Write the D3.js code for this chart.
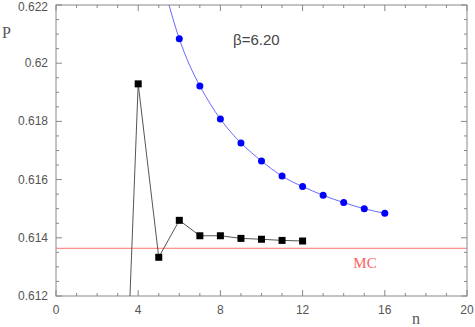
<!DOCTYPE html>
<html><head><meta charset="utf-8">
<script src="https://cdn.jsdelivr.net/npm/d3@7"></script>
<style>body{margin:0;background:#fff}</style>
</head><body>
<svg id="c" width="475" height="327"></svg>
<script>
const squareN = [3, 4, 5, 6, 7, 8, 9, 10, 11, 12];
const squareP = [0.6011, 0.61929, 0.61333, 0.61460, 0.61407, 0.61407, 0.61398, 0.61395, 0.61391, 0.61389];
const circleN = [6, 7, 8, 9, 10, 11, 12, 13, 14, 15, 16];
const circleP = [0.62084, 0.61922, 0.61808, 0.61726, 0.61664, 0.61612, 0.61576, 0.61546, 0.61521, 0.61500, 0.61484];
const fitN = [5, 6, 7, 8, 9, 10, 11, 12, 13, 14, 15, 16];
const fitP = [0.62330, 0.62084, 0.61922, 0.61808, 0.61726, 0.61664, 0.61612, 0.61576, 0.61546, 0.61521, 0.61500, 0.61484];
const mcP = 0.61364;
const xTicks = [0, 4, 8, 12, 16, 20];
const yTicks = [0.612, 0.614, 0.616, 0.618, 0.62, 0.622];
const yTickLabels = ["0.612", "0.614", "0.616", "0.618", "0.62", "0.622"];

const svg = d3.select("#c");
const L = 56, R = 467, T = 5, B = 296;
const x = d3.scaleLinear().domain([0, 20]).range([L, R]);
const y = d3.scaleLinear().domain([0.612, 0.622]).range([B, T]);

svg.append("defs").append("clipPath").attr("id", "clip")
  .append("rect").attr("x", L).attr("y", T).attr("width", R - L).attr("height", B - T);

const axisCol = "#888";
const minorX = d3.range(0, 21, 1), minorY = d3.range(0, 21).map(i => 0.612 + i * 0.0005);
const g = svg.append("g");
minorX.forEach(v => {
  const len = (v % 4 === 0) ? 6 : 3;
  g.append("line").attr("x1", x(v)).attr("x2", x(v)).attr("y1", B).attr("y2", B - len).attr("stroke", axisCol);
  g.append("line").attr("x1", x(v)).attr("x2", x(v)).attr("y1", T).attr("y2", T + len).attr("stroke", axisCol);
});
minorY.forEach((v, i) => {
  const len = (i % 4 === 0) ? 6 : 3;
  g.append("line").attr("y1", y(v)).attr("y2", y(v)).attr("x1", L).attr("x2", L + len).attr("stroke", axisCol);
  g.append("line").attr("y1", y(v)).attr("y2", y(v)).attr("x1", R).attr("x2", R - len).attr("stroke", axisCol);
});
g.append("rect").attr("x", L).attr("y", T).attr("width", R - L).attr("height", B - T)
  .attr("fill", "none").attr("stroke", axisCol).attr("stroke-width", 1);

const lf = "'Liberation Sans', Arial, sans-serif";
svg.selectAll(".xl").data(xTicks).enter().append("text")
  .attr("x", d => x(d)).attr("y", 314).attr("text-anchor", "middle")
  .attr("font-family", lf).attr("font-size", 12).attr("fill", "#555").text(d => d);
svg.selectAll(".yl").data(yTicks).enter().append("text")
  .attr("x", 48).attr("y", d => Math.max(y(d) + 4, 11)).attr("text-anchor", "end")
  .attr("font-family", lf).attr("font-size", 12).attr("fill", "#555").text((d, i) => yTickLabels[i]);

svg.append("text").attr("x", 2).attr("y", 38).attr("font-family", "'Liberation Serif', serif")
  .attr("font-size", 16).attr("fill", "#555").text("P");
svg.append("text").attr("x", 412).attr("y", 324).attr("font-family", "'Liberation Serif', serif")
  .attr("font-size", 16).attr("fill", "#555").text("n");
svg.append("text").attr("x", 233).attr("y", 45).attr("font-family", lf)
  .attr("font-size", 15).attr("fill", "#444").text("β=6.20");

const plot = svg.append("g").attr("clip-path", "url(#clip)");
plot.append("line").attr("x1", L).attr("x2", R).attr("y1", y(mcP)).attr("y2", y(mcP))
  .attr("stroke", "#ff7070").attr("stroke-width", 1);
svg.append("text").attr("x", 365).attr("y", 268).attr("text-anchor", "middle")
  .attr("font-family", "'Liberation Serif', serif").attr("font-size", 15).attr("fill", "#ff6060").text("MC");

const fit = fitN.map((n, i) => [n, fitP[i]]);
plot.append("path").datum(fit)
  .attr("d", d3.line().x(d => x(d[0])).y(d => y(d[1])).curve(d3.curveNatural))
  .attr("fill", "none").attr("stroke", "#6a6aff").attr("stroke-width", 1);
const sq = squareN.map((n, i) => [n, squareP[i]]);
plot.append("path").datum(sq)
  .attr("d", d3.line().x(d => x(d[0])).y(d => y(d[1])))
  .attr("fill", "none").attr("stroke", "#555").attr("stroke-width", 1);
plot.selectAll(".sq").data(sq).enter().append("rect")
  .attr("x", d => x(d[0]) - 3.5).attr("y", d => y(d[1]) - 3.5)
  .attr("width", 7).attr("height", 7).attr("fill", "#000");
plot.selectAll(".ci").data(circleN.map((n, i) => [n, circleP[i]])).enter().append("circle")
  .attr("cx", d => x(d[0])).attr("cy", d => y(d[1])).attr("r", 3.5).attr("fill", "#0000ff");
</script>
</body></html>
